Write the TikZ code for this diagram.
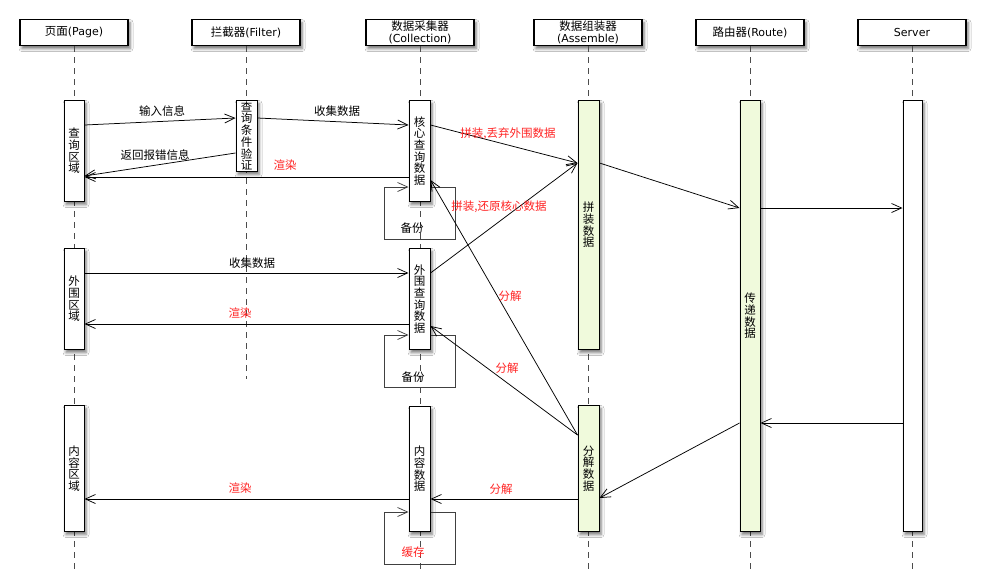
\documentclass[tikz,border=0pt]{standalone}
\usepackage{fontspec}
\setmainfont{Noto Sans CJK SC}
\newfontfamily\hdlatin{DejaVu Sans}
\usetikzlibrary{arrows.meta,shadows.blur}
\definecolor{actgreen}{RGB}{240,250,220}
\definecolor{msgred}{RGB}{255,35,35}
\tikzset{
  soft/.style={blur shadow={shadow xshift=2pt,shadow yshift=-3pt,shadow blur radius=3pt,shadow opacity=55}},
  head/.style={draw,line width=1.1pt,fill=white,minimum width=108pt,minimum height=26pt,
    inner sep=0pt,align=center,anchor=north,soft,font=\fontsize{11.5}{11.5}\selectfont},
  act/.style={draw,line width=1pt,fill=white,minimum width=20pt,inner sep=0pt,align=center,
    anchor=north,soft,font=\fontsize{11.5}{11.7}\selectfont},
  actg/.style={act,fill=actgreen},
  life/.style={black!70,line width=0.9pt,dash pattern=on 6pt off 5pt},
  msg/.style={line width=0.75pt,-{Straight Barb[length=10pt,width=9pt]}},
  selfmsg/.style={msg,black!75},
  lbl/.style={inner sep=0pt,font=\fontsize{11.5}{12}\selectfont},
  rlbl/.style={lbl,text=msgred}
}
\begin{document}
\begin{tikzpicture}[x=1pt,y=-1pt]
\useasboundingbox[fill=white] (0,0) rectangle (993,587);

% participants
\node[head] (hp) at (74,19)  {页面{\hdlatin\fontsize{11}{11.5}\selectfont(Page)}};
\node[head] (hf) at (246,19) {拦截器{\hdlatin\fontsize{11}{11.5}\selectfont(Filter)}};
\node[head] (hc) at (420,19) {数据采集器\\{\hdlatin\fontsize{11}{11.5}\selectfont(Collection)}};
\node[head] (ha) at (588,19) {数据组装器\\{\hdlatin\fontsize{11}{11.5}\selectfont(Assemble)}};
\node[head] (hr) at (750,19) {路由器{\hdlatin\fontsize{11}{11.5}\selectfont(Route)}};
\node[head] (hs) at (912,19) {\hdlatin\fontsize{11}{11.5}\selectfont Server};

% lifelines
\draw[life] (hp.south) -- ++(0,523);
\draw[life] (hf.south) -- ++(0,333);
\draw[life] (hc.south) -- ++(0,523);
\draw[life] (ha.south) -- ++(0,523);
\draw[life] (hr.south) -- ++(0,523);
\draw[life] (hs.south) -- ++(0,523);

% activations
\node[act,minimum height=101pt] (pq) at (74,100) {查\\询\\区\\域};
\node[act,minimum height=101pt] (pw) at (74,248) {外\\围\\区\\域};
\node[act,minimum height=126pt] (pn) at (74,405) {内\\容\\区\\域};
\node[act,minimum width=21pt,minimum height=71pt] (fv) at (246.5,100) {查\\询\\条\\件\\验\\证};
\node[act,minimum width=21pt,minimum height=101pt] (ch) at (419.5,100) {核\\心\\查\\询\\数\\据};
\node[act,minimum width=21pt,minimum height=101pt] (cw) at (419.5,248) {外\\围\\查\\询\\数\\据};
\node[act,minimum width=21pt,minimum height=125pt] (cn) at (419.5,406) {内\\容\\数\\据};
\node[actg,minimum width=21pt,minimum height=249pt] (ap) at (588.5,100) {拼\\装\\数\\据};
\node[actg,minimum width=21pt,minimum height=126pt] (ad) at (588.5,405) {分\\解\\数\\据};
\node[actg,minimum height=431pt] (rt) at (750,100) {传\\递\\数\\据};
\node[act,minimum width=19pt,minimum height=431pt] (sv) at (912.5,100) {};

% query area
\draw[msg] ([yshift=-25pt]pq.north east) -- ([yshift=-18pt]fv.north west);
\node[lbl] (l1) at (162,111) {输入信息};
\draw[msg] ([yshift=-53pt]fv.north west) -- ([yshift=-76pt]pq.north east);
\node[lbl] (l2) at (155,155) {返回报错信息};
\draw[msg] ([yshift=-18pt]fv.north east) -- ([yshift=-25pt]ch.north west);
\node[lbl] (l3) at (337,111) {收集数据};
\draw[msg] ([yshift=-77pt]ch.north west) -- ([yshift=-77pt]pq.north east);
\node[rlbl] (l4) at (285,165) {渲染};
\draw[selfmsg] ([yshift=-87pt]ch.north east) -- ++(25,0) -- ++(0,52) -- ++(-71,0) -- ++(0,-52)
  -- ([yshift=-87pt]ch.north west);
\node[lbl] (l5) at (412,228) {备份};

% outer area
\draw[msg] ([yshift=-25pt]pw.north east) -- ([yshift=-25pt]cw.north west);
\node[lbl] (l6) at (252,263) {收集数据};
\draw[msg] ([yshift=-76pt]cw.north west) -- ([yshift=-76pt]pw.north east);
\node[rlbl] (l7) at (240,313) {渲染};
\draw[selfmsg] ([yshift=-87pt]cw.north east) -- ++(25,0) -- ++(0,52) -- ++(-71,0) -- ++(0,-52)
  -- ([yshift=-87pt]cw.north west);
\node[lbl] (l8) at (413,377) {备份};

% assembling
\draw[msg] ([yshift=-25pt]ch.north east) -- ([yshift=-63pt]ap.north west);
\node[rlbl] (l9) at (508,134) {拼装,丢弃外围数据};
\draw[msg] ([yshift=-25pt]cw.north east) -- ([yshift=-63pt]ap.north west);
\node[rlbl] (l10) at (499,207) {拼装,还原核心数据};

% routing
\draw[msg] ([yshift=-63pt]ap.north east) -- ([yshift=-108pt]rt.north west);
\draw[msg] ([yshift=-108pt]rt.north east) -- ([yshift=-108pt]sv.north west);
\draw[msg] ([yshift=-323pt]sv.north west) -- ([yshift=-323pt]rt.north east);
\draw[msg] ([yshift=-323pt]rt.north west) -- ([yshift=-93pt]ad.north east);

% splitting
\draw[msg] ([yshift=-30pt]ad.north west) -- ([yshift=-80pt]ch.north east);
\node[rlbl] (l11) at (510,296) {分解};
\draw[msg] ([yshift=-30pt]ad.north west) -- ([yshift=-78pt]cw.north east);
\node[rlbl] (l12) at (507,368) {分解};
\draw[msg] ([yshift=-94pt]ad.north west) -- ([yshift=-93pt]cn.north east);
\node[rlbl] (l13) at (501,489) {分解};

% content area
\draw[msg] ([yshift=-93pt]cn.north west) -- ([yshift=-94pt]pn.north east);
\node[rlbl] (l14) at (240,488) {渲染};
\draw[selfmsg] ([yshift=-106pt]cn.north east) -- ++(25,0) -- ++(0,52) -- ++(-71,0) -- ++(0,-52)
  -- ([yshift=-106pt]cn.north west);
\node[rlbl] (l15) at (413,552) {缓存};
\end{tikzpicture}
\end{document}
